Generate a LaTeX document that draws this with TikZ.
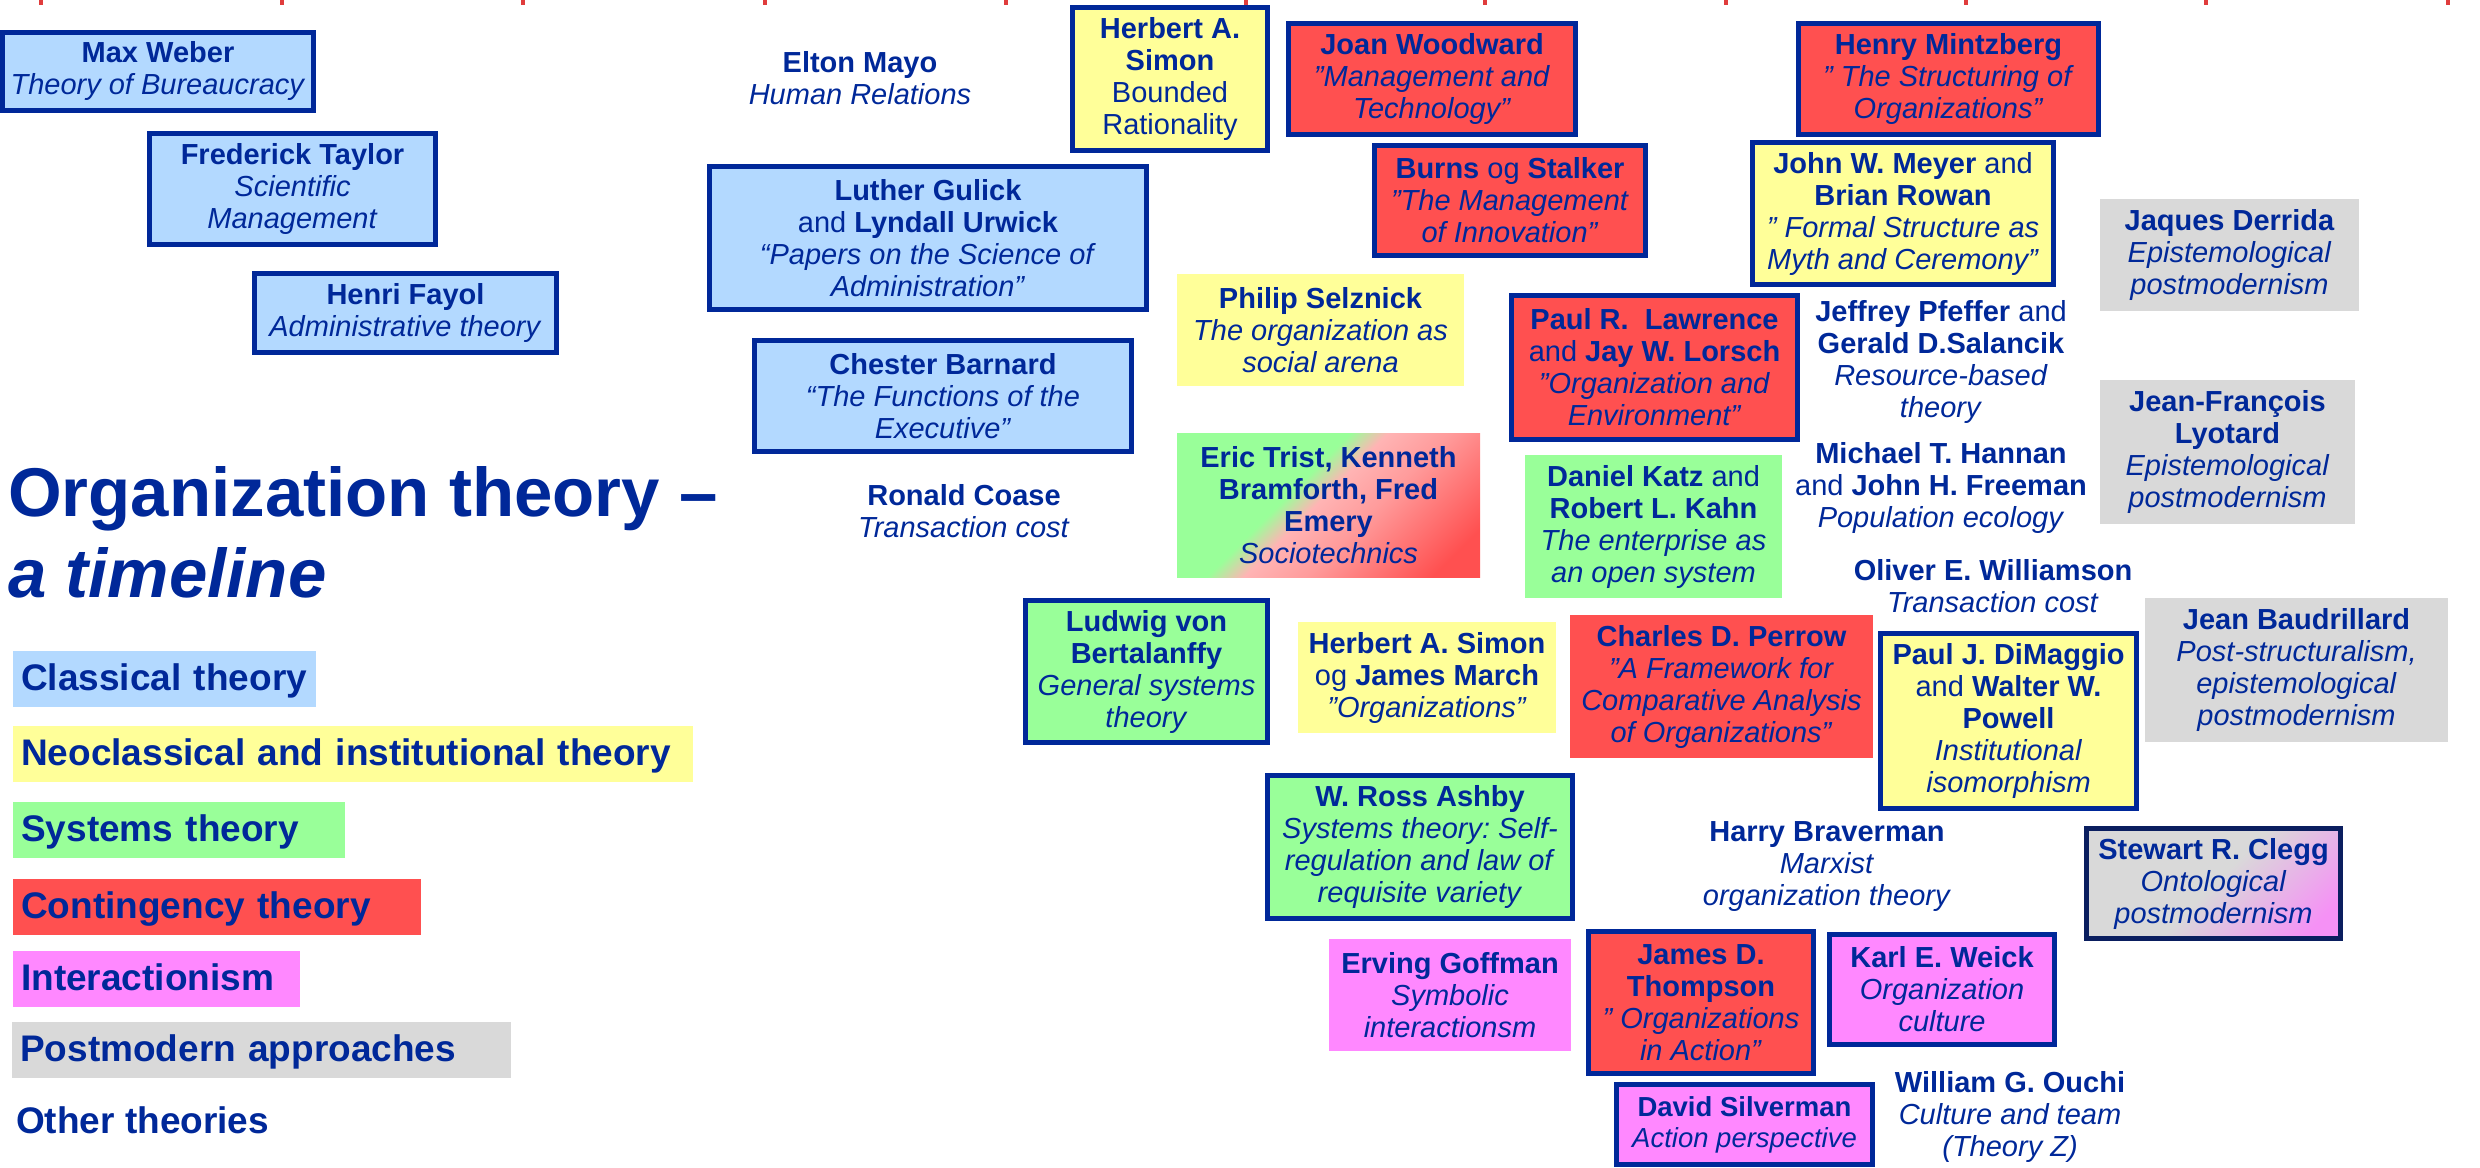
\documentclass[tikz,border=0pt]{standalone}
\usepackage{fontspec}
\setmainfont{Liberation Sans}
\frenchspacing
\definecolor{tc}{RGB}{0,40,153}
\definecolor{bc}{RGB}{0,40,153}
\definecolor{navy}{RGB}{10,30,95}
\definecolor{cblue}{RGB}{179,217,255}
\definecolor{cyellow}{RGB}{255,255,153}
\definecolor{cgreen}{RGB}{153,255,153}
\definecolor{cred}{RGB}{255,80,80}
\definecolor{cpink}{RGB}{255,136,255}
\definecolor{cgrey}{RGB}{217,217,217}
\definecolor{tpink}{RGB}{255,180,180}
\definecolor{tpinkb}{RGB}{255,155,155}
\definecolor{gpink}{RGB}{245,145,245}
\definecolor{tickred}{RGB}{224,60,60}
\pgfdeclarehorizontalshading{tristsh}{100bp}{color(0bp)=(cgreen); color(42bp)=(cgreen); color(48bp)=(tpink); color(58bp)=(tpinkb); color(78bp)=(cred); color(100bp)=(cred)}
\pgfdeclarehorizontalshading{cleggsh}{100bp}{color(0bp)=(cgrey); color(50bp)=(cgrey); color(78bp)=(gpink); color(100bp)=(gpink)}
\tikzset{
  txt/.style={font=\fontsize{29}{32}\selectfont, text=tc, align=center, inner sep=0pt},
  framed/.style={txt, draw=bc, line width=5pt},
  sz/.style 2 args={minimum width=#1, minimum height=#2},
  legend/.style={font=\fontsize{37}{40}\selectfont\bfseries, text=tc, align=left, inner xsep=8pt, inner ysep=0pt, text height=28pt, text depth=6pt, minimum height=56pt, anchor=north west},
  title/.style={font=\fontsize{69}{81}\selectfont\bfseries, text=tc, align=left, inner sep=0pt, anchor=west},
  tickmark/.style={fill=tickred}
}
\begin{document}
\begin{tikzpicture}[x=1pt,y=-1pt]
\useasboundingbox (0,0) rectangle (2480,1167);
% timeline ticks at the top edge
\foreach \t in {41,282,523,765,1006,1246,1485,1726,1966,2206,2448}
  \fill[tickmark] (\t-2,0) rectangle (\t+2,5);

% title and legend
\node[title] (title) at (8,532.5) {Organization theory –\\\textit{a timeline}};
\node[legend, fill=cblue, minimum width=303pt, text width=287pt] (lclass) at (13,651) {Classical theory};
\node[legend, fill=cyellow, minimum width=680pt, text width=664pt] (lneo) at (13,726) {Neoclassical and institutional theory};
\node[legend, fill=cgreen, minimum width=332pt, text width=316pt] (lsys) at (13,802) {Systems theory};
\node[legend, fill=cred, minimum width=408pt, text width=392pt] (lcont) at (13,879) {Contingency theory};
\node[legend, fill=cpink, minimum width=287pt, text width=271pt] (linter) at (13,951) {Interactionism};
\node[legend, fill=cgrey, minimum width=499pt, text width=483pt] (lpost) at (12,1022) {Postmodern approaches};
\node[font=\fontsize{37}{40}\selectfont\bfseries, text=tc, inner sep=0pt, anchor=base west] (lother) at (16,1133) {Other theories};

% framed boxes
\node[framed, fill=cblue, sz={311pt}{78pt}] (weber) at (158,71.5) {\textbf{Max Weber}\\\textit{Theory of Bureaucracy}};
\node[framed, fill=cblue, sz={286pt}{111pt}] (taylor) at (292.5,189) {\textbf{Frederick Taylor}\\\textit{Scientific}\\\textit{Management}};
\node[framed, fill=cblue, sz={302pt}{79pt}] (fayol) at (405.5,313) {\textbf{Henri Fayol}\\\textit{Administrative theory}};
\node[framed, fill=cyellow, sz={195pt}{143pt}] (simonbr) at (1170,79) {\textbf{Herbert A.}\\\textbf{Simon}\\Bounded\\Rationality};
\node[framed, fill=cred, sz={287pt}{111pt}] (woodward) at (1432,79) {\textbf{Joan Woodward}\\\textit{”Management and}\\\textit{Technology”}};
\node[framed, fill=cred, sz={271pt}{110pt}] (burns) at (1510,200.5) {\textbf{Burns} og \textbf{Stalker}\\\textit{”The Management}\\\textit{of Innovation”}};
\node[framed, fill=cred, sz={300pt}{111pt}] (mintzberg) at (1948.5,79) {\textbf{Henry Mintzberg}\\\textit{” The Structuring of}\\\textit{Organizations”}};
\node[framed, fill=cyellow, sz={301pt}{142pt}] (meyer) at (1903,213.5) {\textbf{John W. Meyer} and\\\textbf{Brian Rowan}\\\textit{” Formal Structure as}\\\textit{Myth and Ceremony”}};
\node[framed, fill=cblue, sz={437pt}{143pt}] (gulick) at (928,238) {\textbf{Luther Gulick}\\and \textbf{Lyndall Urwick}\\\textit{“Papers on the Science of}\\\textit{Administration”}};
\node[framed, fill=cblue, sz={377pt}{111pt}] (barnard) at (943,396) {\textbf{Chester Barnard}\\\textit{“The Functions of the}\\\textit{Executive”}};
\node[framed, fill=cred, sz={286pt}{144pt}] (lawrence) at (1654.5,367.5) {\textbf{Paul R.\ \ Lawrence}\\and \textbf{Jay W. Lorsch}\\\textit{”Organization and}\\\textit{Environment”}};
\node[framed, fill=cgreen, sz={242pt}{142pt}] (bertalanffy) at (1146.5,671.5) {\textbf{Ludwig von}\\\textbf{Bertalanffy}\\\textit{General systems}\\\textit{theory}};
\node[framed, fill=cyellow, sz={256pt}{175pt}] (dimaggio) at (2008.5,721) {\textbf{Paul J. DiMaggio}\\and \textbf{Walter W.}\\\textbf{Powell}\\\textit{Institutional}\\\textit{isomorphism}};
\node[framed, fill=cgreen, sz={305pt}{143pt}] (ashby) at (1420,847) {\textbf{W. Ross Ashby}\\\textit{Systems theory: Self-}\\\textit{regulation and law of}\\\textit{requisite variety}};
\node[framed, draw=navy, shade, shading=cleggsh, shading angle=-45, sz={254pt}{110pt}] (clegg) at (2213.5,883.5) {\textbf{Stewart R. Clegg}\\\textit{Ontological}\\\textit{postmodernism}};
\node[framed, fill=cred, sz={225pt}{142pt}] (thompson) at (1701,1002.5) {\textbf{James D.}\\\textbf{Thompson}\\\textit{” Organizations}\\\textit{in Action”}};
\node[framed, fill=cpink, sz={225pt}{110pt}] (weick) at (1942,989.5) {\textbf{Karl E. Weick}\\\textit{Organization}\\\textit{culture}};
\node[framed, fill=cpink, sz={256pt}{80pt}, font=\fontsize{27.5}{31}\selectfont] (silverman) at (1744.5,1124.5) {\textbf{David Silverman}\\\textit{Action perspective}};

% filled boxes without frame
\node[txt, fill=cgrey, sz={259pt}{112pt}] (derrida) at (2229.5,255) {\textbf{Jaques Derrida}\\\textit{Epistemological}\\\textit{postmodernism}};
\node[txt, fill=cgrey, sz={255pt}{144pt}] (lyotard) at (2227.5,452) {\textbf{Jean-François}\\\textbf{Lyotard}\\\textit{Epistemological}\\\textit{postmodernism}};
\node[txt, fill=cyellow, sz={287pt}{112pt}] (selznick) at (1320.5,330) {\textbf{Philip Selznick}\\\textit{The organization as}\\\textit{social arena}};
\node[txt, shade, shading=tristsh, shading angle=-45, sz={303pt}{144pt}] (trist) at (1328.5,505) {\textbf{Eric Trist, Kenneth}\\\textbf{Bramforth, Fred}\\\textbf{Emery}\\\textit{Sociotechnics}};
\node[txt, fill=cgreen, sz={257pt}{143pt}] (katz) at (1653.5,526.5) {\textbf{Daniel Katz} and\\\textbf{Robert L. Kahn}\\\textit{The enterprise as}\\\textit{an open system}};
\node[txt, fill=cyellow, sz={258pt}{111pt}] (simonmarch) at (1427,677.5) {\textbf{Herbert A. Simon}\\og \textbf{James March}\\\textit{”Organizations”}};
\node[txt, fill=cred, sz={303pt}{143pt}] (perrow) at (1721.5,686.5) {\textbf{Charles D. Perrow}\\\textit{”A Framework for}\\\textit{Comparative Analysis}\\\textit{of Organizations”}};
\node[txt, fill=cgrey, sz={303pt}{144pt}] (baudrillard) at (2296.5,670) {\textbf{Jean Baudrillard}\\\textit{Post-structuralism,}\\\textit{epistemological}\\\textit{postmodernism}};
\node[txt, fill=cpink, sz={242pt}{112pt}] (goffman) at (1450,995) {\textbf{Erving Goffman}\\\textit{Symbolic}\\\textit{interactionsm}};

% plain texts
\node[txt] (mayo) at (860,78) {\textbf{Elton Mayo}\\\textit{Human Relations}};
\node[txt] (coase) at (964,511) {\textbf{Ronald Coase}\\\textit{Transaction cost}};
\node[txt] (pfeffer) at (1941,361.5) {\textbf{Jeffrey Pfeffer} and\\\textbf{Gerald D.Salancik}\\\textit{Resource-based}\\\textit{theory}};
\node[txt] (hannan) at (1941,487.5) {\textbf{Michael T. Hannan}\\and \textbf{John H. Freeman}\\\textit{Population ecology}};
\node[txt] (williamson) at (1993,586.5) {\textbf{Oliver E. Williamson}\\\textit{Transaction cost}};
\node[txt] (braverman) at (1827,866.5) {\textbf{Harry Braverman}\\\textit{Marxist}\\\textit{organization theory}};
\node[txt] (ouchi) at (2010,1116.5) {\textbf{William G. Ouchi}\\\textit{Culture and team}\\\textit{(Theory Z)}};
\end{tikzpicture}
\end{document}
